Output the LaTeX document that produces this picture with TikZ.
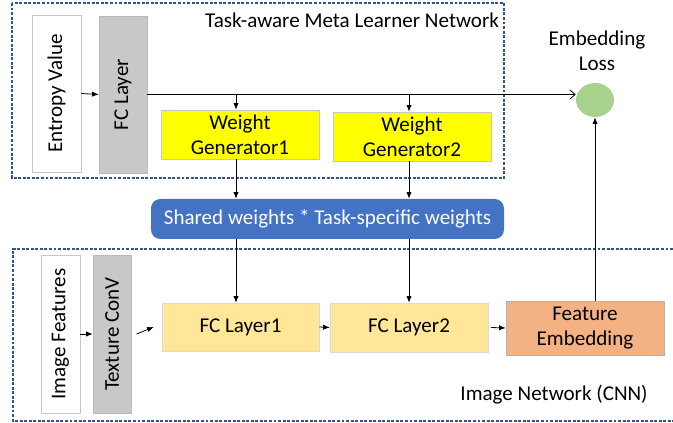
\documentclass[tikz,border=0pt]{standalone}
\usepackage{fontspec}
\setmainfont{Carlito}
\usepackage{xcolor}
\usepackage{tikz}
\usetikzlibrary{positioning,calc,arrows.meta,shapes.geometric}
\definecolor{frameblue}{HTML}{2F5597}
\definecolor{genyellow}{HTML}{FFFF00}
\definecolor{layeryellow}{HTML}{FFE699}
\definecolor{embedorange}{HTML}{F4B183}
\definecolor{lossgreen}{HTML}{A9D18E}
\definecolor{sharedblue}{HTML}{4472C4}
\definecolor{convgray}{HTML}{C8C8C8}
\newcommand{\pxu}{0.75pt}
\tikzset{
    % dashed frame around each network
    net_frame/.style={
        draw=frameblue,
        line width=0.9pt,
        dash pattern=on 2.2pt off 1.2pt
    },
    % vertical boxes (inputs and first layers)
    input_box/.style={
        draw=gray!45,
        fill=white,
        rotate=90,
        inner sep=0pt
    },
    gray_box/.style={
        input_box,
        draw=gray!55,
        fill=convgray
    },
    % horizontal layer boxes
    layer_box/.style={
        draw=gray!45,
        inner sep=0pt,
        align=center
    },
    conn/.style={-{Latex[length=5pt,width=4pt]}, line width=0.6pt},
    txt/.style={font=\fontsize{15.8}{18.75}\selectfont, align=center}
}

\begin{document}
\begin{tikzpicture}[x=\pxu, y=-\pxu, every node/.style={txt}]
        \useasboundingbox (0,0) rectangle (673,423);

        % --- 1. Task-aware meta learner network ---
        \draw[net_frame] (12,3) rectangle (504,178);
        \node (metatitle) at (352,20) {Task-aware Meta Learner Network};

        \node[input_box, minimum width=157*\pxu, minimum height=49*\pxu] (entropy) at (56.5,93.5) {Entropy Value};
        \node[gray_box, minimum width=157*\pxu, minimum height=48*\pxu] (fc) at (123,94.5) {FC Layer};
        \node[layer_box, fill=genyellow, minimum width=158*\pxu, minimum height=49*\pxu] (wg1) at (240,134.5) {Weight\\Generator1};
        \node[layer_box, fill=genyellow, minimum width=158*\pxu, minimum height=49*\pxu] (wg2) at (412,136.5) {Weight\\Generator2};

        % columns of the vertical arrows
        \coordinate (col1) at (236,0);
        \coordinate (col2) at (409,0);

        % --- 2. Embedding loss ---
        \node[ellipse, fill=lossgreen, minimum width=38*\pxu, minimum height=34*\pxu, inner sep=0pt] (loss) at (595,100) {};
        \node (losslabel) at (597,51) {Embedding\\Loss};

        % --- 3. Shared weights ---
        \node[rounded corners=7pt, fill=sharedblue, text=white, minimum width=353*\pxu, minimum height=40*\pxu, inner sep=0pt] (shared) at (327.5,219) {Shared weights * Task-specific weights};

        % --- 4. Image network ---
        \draw[net_frame] (673,249) -| (13,421) -- (673,421);
        \node (cnntitle) at (554,395) {Image Network (CNN)};

        \node[input_box, minimum width=158*\pxu, minimum height=39*\pxu] (imgfeat) at (60.5,334) {Image Features};
        \node[gray_box, minimum width=158*\pxu, minimum height=38*\pxu] (tex) at (112,334) {Texture ConV};
        \node[layer_box, fill=layeryellow, draw=gray!30, minimum width=157*\pxu, minimum height=48*\pxu] (fc1) at (240.5,327) {FC Layer1};
        \node[layer_box, fill=layeryellow, draw=gray!30, minimum width=158*\pxu, minimum height=49*\pxu] (fc2) at (409,327.5) {FC Layer2};
        \node[layer_box, fill=embedorange, draw=gray!60, minimum width=158*\pxu, minimum height=54*\pxu] (femb) at (585,328) {Feature\\Embedding};

        % --- 5. Connectors ---
        \draw[conn] (entropy.south) -- (fc.north);
        \draw[-{Straight Barb[length=4pt,width=7pt]}, line width=0.6pt] (fc.south) -- (fc.south -| loss.west);
        \draw[conn] (fc.south -| col1) -- (wg1.north -| col1);
        \draw[conn] (fc.south -| col2) -- (wg2.north -| col2);
        \draw[conn] (wg1.south -| col1) -- (shared.north -| col1);
        \draw[conn] (wg2.south -| col2) -- (shared.north -| col2);
        \draw[conn] (shared.south -| col1) -- (fc1.north -| col1);
        \draw[conn] (shared.south -| col2) -- (fc2.north -| col2);

        \draw[conn] (imgfeat.south) -- (tex.north);
        \draw[conn] ([xshift=4pt]tex.south) -- ([xshift=-6pt]fc1.west);
        \draw[conn] (fc1.east) -- (fc2.west);
        \draw[conn] ([xshift=2pt]fc2.east) -- (femb.west);
        \draw[conn] (femb.north -| loss.south) -- (loss.south);
    \end{tikzpicture}
\end{document}
